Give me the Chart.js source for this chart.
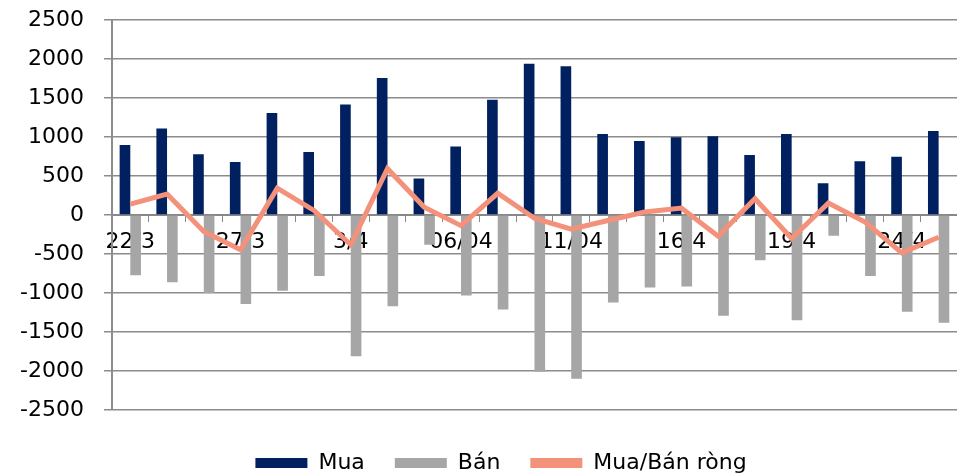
<!DOCTYPE html>
<html>
<head>
<meta charset="utf-8">
<script src="https://cdn.jsdelivr.net/npm/chart.js@4.4.1/dist/chart.umd.min.js"></script>
<style>
  html, body { margin: 0; padding: 0; background: #fff; }
</style>
</head>
<body>
<canvas id="chart" width="957" height="475"></canvas>
<script>
// only every third date is printed on the axis
const labels = ["22/3", "", "", "27/3", "", "", "3/4", "", "", "06/04", "", "", "11/04", "", "", "16/4", "", "", "19/4", "", "", "24/4", ""];
const mua = [900, 1110, 780, 680, 1310, 810, 1420, 1760, 470, 880, 1480, 1940, 1910, 1040, 950, 1000, 1010, 770, 1040, 410, 690, 750, 1080];
const ban = [-770, -860, -1000, -1140, -970, -780, -1810, -1170, -380, -1030, -1210, -2010, -2100, -1120, -930, -915, -1290, -580, -1350, -265, -780, -1240, -1380];
const rong = [140, 270, -210, -445, 345, 60, -380, 595, 100, -135, 280, -40, -180, -70, 40, 90, -270, 210, -300, 155, -90, -485, -285];

const yMin = -2500;
const yMax = 2500;
const yStep = 500;

Chart.defaults.font.family = "'DejaVu Sans', Verdana, sans-serif";
Chart.defaults.font.size = 22;
Chart.defaults.color = "#000";

// nudge the legend a bit to the right, like the original
const legendShift = {
    id: "legendShift",
    afterLayout(chart) {
        chart.legend.left += 16;
        chart.legend.right += 16;
    },
};

const ctx = document.getElementById("chart");
new Chart(ctx, {
    type: "bar",
    data: {
        labels: labels,
        datasets: [
            {
                label: "Mua",
                data: mua,
                backgroundColor: "#002060",
                categoryPercentage: 0.58,
                barPercentage: 1.0,
                order: 1,
            },
            {
                label: "Bán",
                data: ban,
                backgroundColor: "#a6a6a6",
                categoryPercentage: 0.58,
                barPercentage: 1.0,
                order: 1,
            },
            {
                type: "line",
                label: "Mua/Bán ròng",
                data: rong,
                borderColor: "#f4917b",
                backgroundColor: "#f4917b",
                borderWidth: 5,
                pointRadius: 0,
                tension: 0,
                order: 0,
            },
        ],
    },
    plugins: [legendShift],
    options: {
        responsive: false,
        animation: false,
        layout: {
            padding: { left: 13, top: 0, right: 0, bottom: -9 },
        },
        plugins: {
            tooltip: { enabled: false },
            legend: {
                position: "bottom",
                title: { display: true, text: " ", font: { size: 10 }, padding: 0 },
                labels: {
                    boxWidth: 52,
                    boxHeight: 10,
                    padding: 30,
                    sort: (a, b) => a.datasetIndex - b.datasetIndex,
                    generateLabels(chart) {
                        const items = Chart.defaults.plugins.legend.labels.generateLabels(chart);
                        items.forEach((it) => { it.lineWidth = 0; });
                        return items;
                    },
                },
            },
        },
        scales: {
            x: {
                position: { y: 0 },
                grid: {
                    drawOnChartArea: false,
                    color: "#888",
                    tickLength: 6,
                    offset: true,
                },
                border: { color: "#888", width: 2 },
                ticks: { autoSkip: false, maxRotation: 0, padding: 8 },
            },
            y: {
                min: yMin,
                max: yMax,
                ticks: { stepSize: yStep, padding: 7, callback: (v) => String(v) },
                grid: {
                    color: "#8c8c8c",
                    lineWidth: 1.5,
                    tickLength: 21,
                    tickBorderDash: [8, 13],
                    tickBorderDashOffset: 8,
                },
                border: { color: "#8c8c8c", width: 2 },
            },
        },
    },
});
</script>
</body>
</html>
